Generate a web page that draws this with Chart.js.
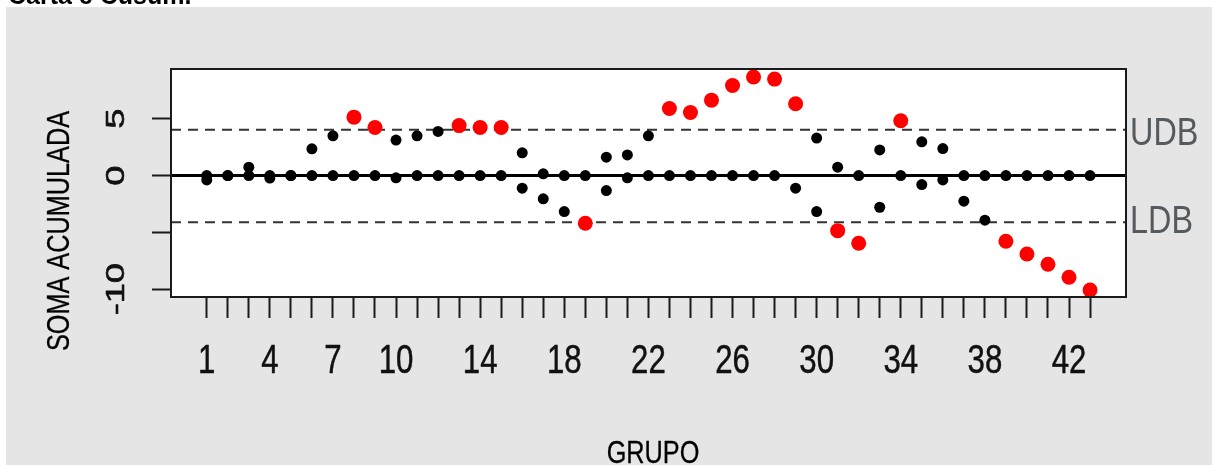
<!DOCTYPE html>
<html>
<head>
<meta charset="utf-8">
<script src="https://cdn.jsdelivr.net/npm/chart.js@4.4.1/dist/chart.umd.min.js"></script>
<style>
  html, body { margin: 0; padding: 0; background: #ffffff; }
  canvas { display: block; }
</style>
</head>
<body>
<canvas id="cusum" width="1212" height="465" style="width:1212px;height:465px"></canvas>
<script>
// Groups (subgroups) of the CUSUM chart
const grupos = [1, 2, 3, 4, 5, 6, 7, 8, 9, 10, 11, 12, 13, 14, 15, 16, 17, 18, 19, 20, 21,
                22, 23, 24, 25, 26, 27, 28, 29, 30, 31, 32, 33, 34, 35, 36, 37, 38, 39, 40, 41, 42, 43];

// Upper cumulative sum (above target)
const somaSuperior = [0, 0, 0.74, 0, 0, 2.35, 3.5, 5.14, 4.23, 3.12, 3.5, 3.88, 4.4, 4.23, 4.23,
                      2.0, 0.15, 0, 0, 1.62, 1.82, 3.5, 5.9, 5.55, 6.64, 7.93, 8.67, 8.49, 6.32,
                      3.3, 0.74, 0, 2.26, 4.82, 2.97, 2.38, 0, 0, 0, 0, 0, 0, 0];

// Lower cumulative sum (below target)
const somaInferior = [-0.38, 0, 0, -0.22, 0, 0, 0, 0, 0, -0.2, 0, 0, 0, 0, 0,
                      -1.11, -2.05, -3.17, -4.2, -1.32, -0.2, 0, 0, 0, 0, 0, 0, 0, -1.11,
                      -3.17, -4.85, -5.96, -2.79, 0, -0.79, -0.38, -2.26, -3.93, -5.78, -6.9,
                      -7.81, -8.95, -10.07];

// Decision boundaries
const UDB = 4.03;
const LDB = -4.12;
const linhaCentral = 0;

// Axis ticks and labels
const xTickLabels = [1, 4, 7, 10, 14, 18, 22, 26, 30, 34, 38, 42];
const yTicks = [-10, -5, 0, 5];
const yTickLabels = [5, 0, -10];
const xRange = [-0.70, 44.71];
const yRange = [-10.69, 9.38];

const FONT = '"Liberation Sans", Arial, sans-serif';
const RED = '#ff0000';
const BLACK = '#000000';

function pontos(valores) {
  return grupos.map((g, i) => ({ x: g, y: valores[i] }));
}
function fora(v) { return v > UDB || v < LDB; }

// text squeezed along its own direction (sx) and across it (sy)
function texto(ctx, str, x, y, opts) {
  ctx.save();
  ctx.translate(x, y);
  if (opts.rot) ctx.rotate(opts.rot);
  ctx.scale(opts.sx || 1, opts.sy || 1);
  ctx.font = opts.font;
  ctx.fillStyle = opts.color || '#000000';
  ctx.textAlign = opts.align || 'center';
  ctx.textBaseline = opts.baseline || 'alphabetic';
  ctx.fillText(str, 0, 0);
  if (opts.weight) {
    ctx.strokeStyle = opts.color || '#000000';
    ctx.lineWidth = opts.weight;
    ctx.lineJoin = 'round';
    ctx.strokeText(str, 0, 0);
  }
  ctx.restore();
}

const decor = {
  id: 'cusumDecor',
  beforeDraw(chart) {
    const ctx = chart.ctx, a = chart.chartArea;
    ctx.save();
    ctx.fillStyle = '#ffffff';
    ctx.fillRect(0, 0, chart.width, chart.height);
    ctx.fillStyle = '#e5e5e5';
    ctx.fillRect(6, 7, chart.width - 6, chart.height - 7);
    ctx.fillStyle = '#ffffff';
    ctx.fillRect(a.left, a.top, a.right - a.left, a.bottom - a.top);
    ctx.restore();
    // heading strip above the panel
    texto(ctx, 'Carta e Cusum.', 8, 4, { font: 'bold 25px ' + FONT, align: 'left' });
  },
  beforeDatasetsDraw(chart) {
    const ctx = chart.ctx, a = chart.chartArea, y = chart.scales.y;
    ctx.save();
    ctx.beginPath();
    ctx.rect(a.left, a.top, a.right - a.left, a.bottom - a.top);
    ctx.clip();
    // centre line
    ctx.strokeStyle = '#000000';
    ctx.lineWidth = 3;
    ctx.beginPath();
    const y0 = y.getPixelForValue(linhaCentral);
    ctx.moveTo(a.left, y0); ctx.lineTo(a.right, y0);
    ctx.stroke();
    // decision boundaries
    ctx.strokeStyle = '#333333';
    ctx.lineWidth = 2;
    ctx.setLineDash([10, 7]);
    [UDB, LDB].forEach(v => {
      const py = y.getPixelForValue(v);
      ctx.beginPath();
      ctx.moveTo(a.left, py); ctx.lineTo(a.right, py);
      ctx.stroke();
    });
    ctx.restore();
  },
  afterDraw(chart) {
    const ctx = chart.ctx, a = chart.chartArea, x = chart.scales.x, y = chart.scales.y;
    ctx.save();
    // plot box
    ctx.strokeStyle = '#1a1a1a';
    ctx.lineWidth = 2;
    ctx.strokeRect(a.left, a.top, a.right - a.left, a.bottom - a.top);
    ctx.restore();

    // boundary labels
    texto(ctx, 'UDB', a.right + 4, 145, { font: '39px ' + FONT, sx: 0.83, align: 'left', color: '#555a5e' });
    texto(ctx, 'LDB', a.right + 4, 233, { font: '39px ' + FONT, sx: 0.83, align: 'left', color: '#555a5e' });

    // x tick labels
    xTickLabels.forEach(v => {
      texto(ctx, String(v), x.getPixelForValue(v), 373,
            { font: '40px ' + FONT, sx: 0.78, color: '#111111', weight: 0.5 });
    });

    // rotated y tick labels
    yTickLabels.forEach(v => {
      texto(ctx, String(v), 117, y.getPixelForValue(v),
            { font: '25px ' + FONT, rot: -Math.PI / 2, sx: 1.45, baseline: 'middle', color: '#111111', weight: 0.6 });
    });

    // axis titles
    texto(ctx, 'SOMA ACUMULADA', 60, 231,
          { font: '32px ' + FONT, rot: -Math.PI / 2, sx: 0.79, baseline: 'middle', weight: 0.3 });
    texto(ctx, 'GRUPO', 653, 463, { font: '32px ' + FONT, sx: 0.79, weight: 0.3 });
  }
};

new Chart(document.getElementById('cusum'), {
  type: 'scatter',
  data: {
    datasets: [
      {
        label: 'Superior',
        data: pontos(somaSuperior),
        pointBackgroundColor: somaSuperior.map(v => fora(v) ? RED : BLACK),
        pointBorderColor: somaSuperior.map(v => fora(v) ? RED : BLACK),
        pointRadius: somaSuperior.map(v => fora(v) ? 7.5 : 5.5),
        pointBorderWidth: 0,
        showLine: false
      },
      {
        label: 'Inferior',
        data: pontos(somaInferior),
        pointBackgroundColor: somaInferior.map(v => fora(v) ? RED : BLACK),
        pointBorderColor: somaInferior.map(v => fora(v) ? RED : BLACK),
        pointRadius: somaInferior.map(v => fora(v) ? 7.5 : 5.5),
        pointBorderWidth: 0,
        showLine: false
      }
    ]
  },
  options: {
    responsive: false,
    animation: false,
    devicePixelRatio: 1,
    layout: { padding: { top: 69, right: 86, left: 0, bottom: 0 } },
    plugins: { legend: { display: false }, tooltip: { enabled: false } },
    scales: {
      x: {
        type: 'linear',
        min: xRange[0],
        max: xRange[1],
        afterBuildTicks: s => { s.ticks = grupos.map(v => ({ value: v })); },
        afterFit: s => { s.height = 168; },
        grid: { drawOnChartArea: false, drawTicks: true, tickLength: 21, tickWidth: 2, tickColor: '#1a1a1a' },
        border: { display: false },
        ticks: { autoSkip: false, maxRotation: 0, minRotation: 0, callback: () => '' }
      },
      y: {
        type: 'linear',
        min: yRange[0],
        max: yRange[1],
        afterBuildTicks: s => { s.ticks = yTicks.map(v => ({ value: v })); },
        afterFit: s => { s.width = 171; },
        grid: { drawOnChartArea: false, drawTicks: true, tickLength: 19, tickWidth: 2, tickColor: '#1a1a1a' },
        border: { display: false },
        ticks: { callback: () => '' }
      }
    }
  },
  plugins: [decor]
});
</script>
</body>
</html>
